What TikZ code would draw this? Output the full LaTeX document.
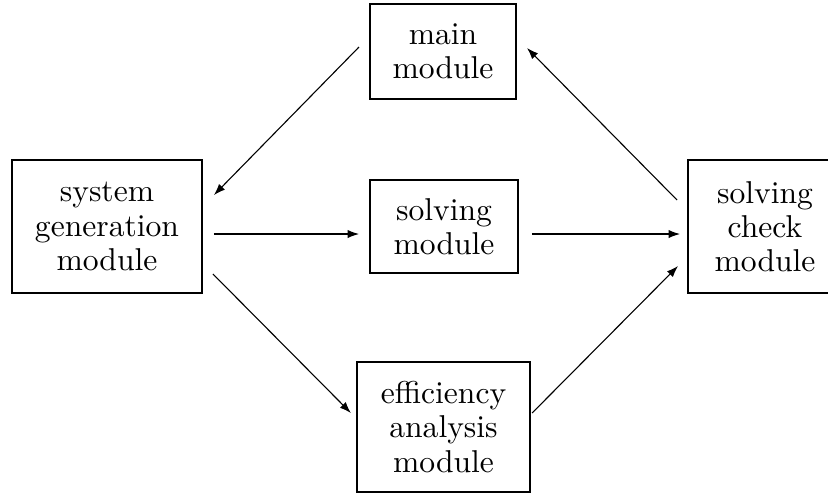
\documentclass[tikz,border=0pt]{standalone}
\usepackage{amsmath, amssymb}
\usepackage{tikz}
\usetikzlibrary{calc, arrows.meta}

\begin{document}
\begin{tikzpicture}[x=0.3165pt, y=-0.3165pt,
    modbox/.style={draw, line width=0.65pt, align=center, inner sep=0pt,
        font=\fontsize{10}{10.8}\selectfont},
    flow/.style={-{Latex[length=3.6pt,width=2.6pt]}, line width=0.35pt}]
    \useasboundingbox (0,0) rectangle (828,494);

    \node [modbox, minimum width=46.2pt, minimum height=30.1pt] (main) at (443,51.5) {main\\module};
    \node [modbox, minimum width=60.1pt, minimum height=42.1pt] (sysgen) at (107,226.5) {system\\generation\\module};
    \node [modbox, minimum width=46.8pt, minimum height=29.4pt] (solve) at (444,226.5) {solving\\module};
    \node [modbox, minimum width=48.7pt, minimum height=42.1pt] (check) at (765,226.5) {solving\\check\\module};
    \node [modbox, minimum width=54.8pt, minimum height=41.1pt] (effic) at (443.5,427) {efficiency\\analysis\\module};

    \draw [flow] ($(main.west)+(-10,-4.5)$) -- ($(sysgen.east)+(11,-31.5)$);
    \draw [flow] ($(sysgen.east)+(11,7.5)$) -- ($(solve.west)+(-10,7.5)$);
    \draw [flow] ($(solve.east)+(13,7.5)$) -- ($(check.west)+(-7,7.5)$);
    \draw [flow] ($(sysgen.east)+(10,47.5)$) -- ($(effic.west)+(-5,-14)$);
    \draw [flow] ($(effic.east)+(1,-14)$) -- ($(check.west)+(-9,39.5)$);
    \draw [flow] ($(check.west)+(-10,-26.5)$) -- ($(main.east)+(10,-3.5)$);
\end{tikzpicture}
\end{document}
